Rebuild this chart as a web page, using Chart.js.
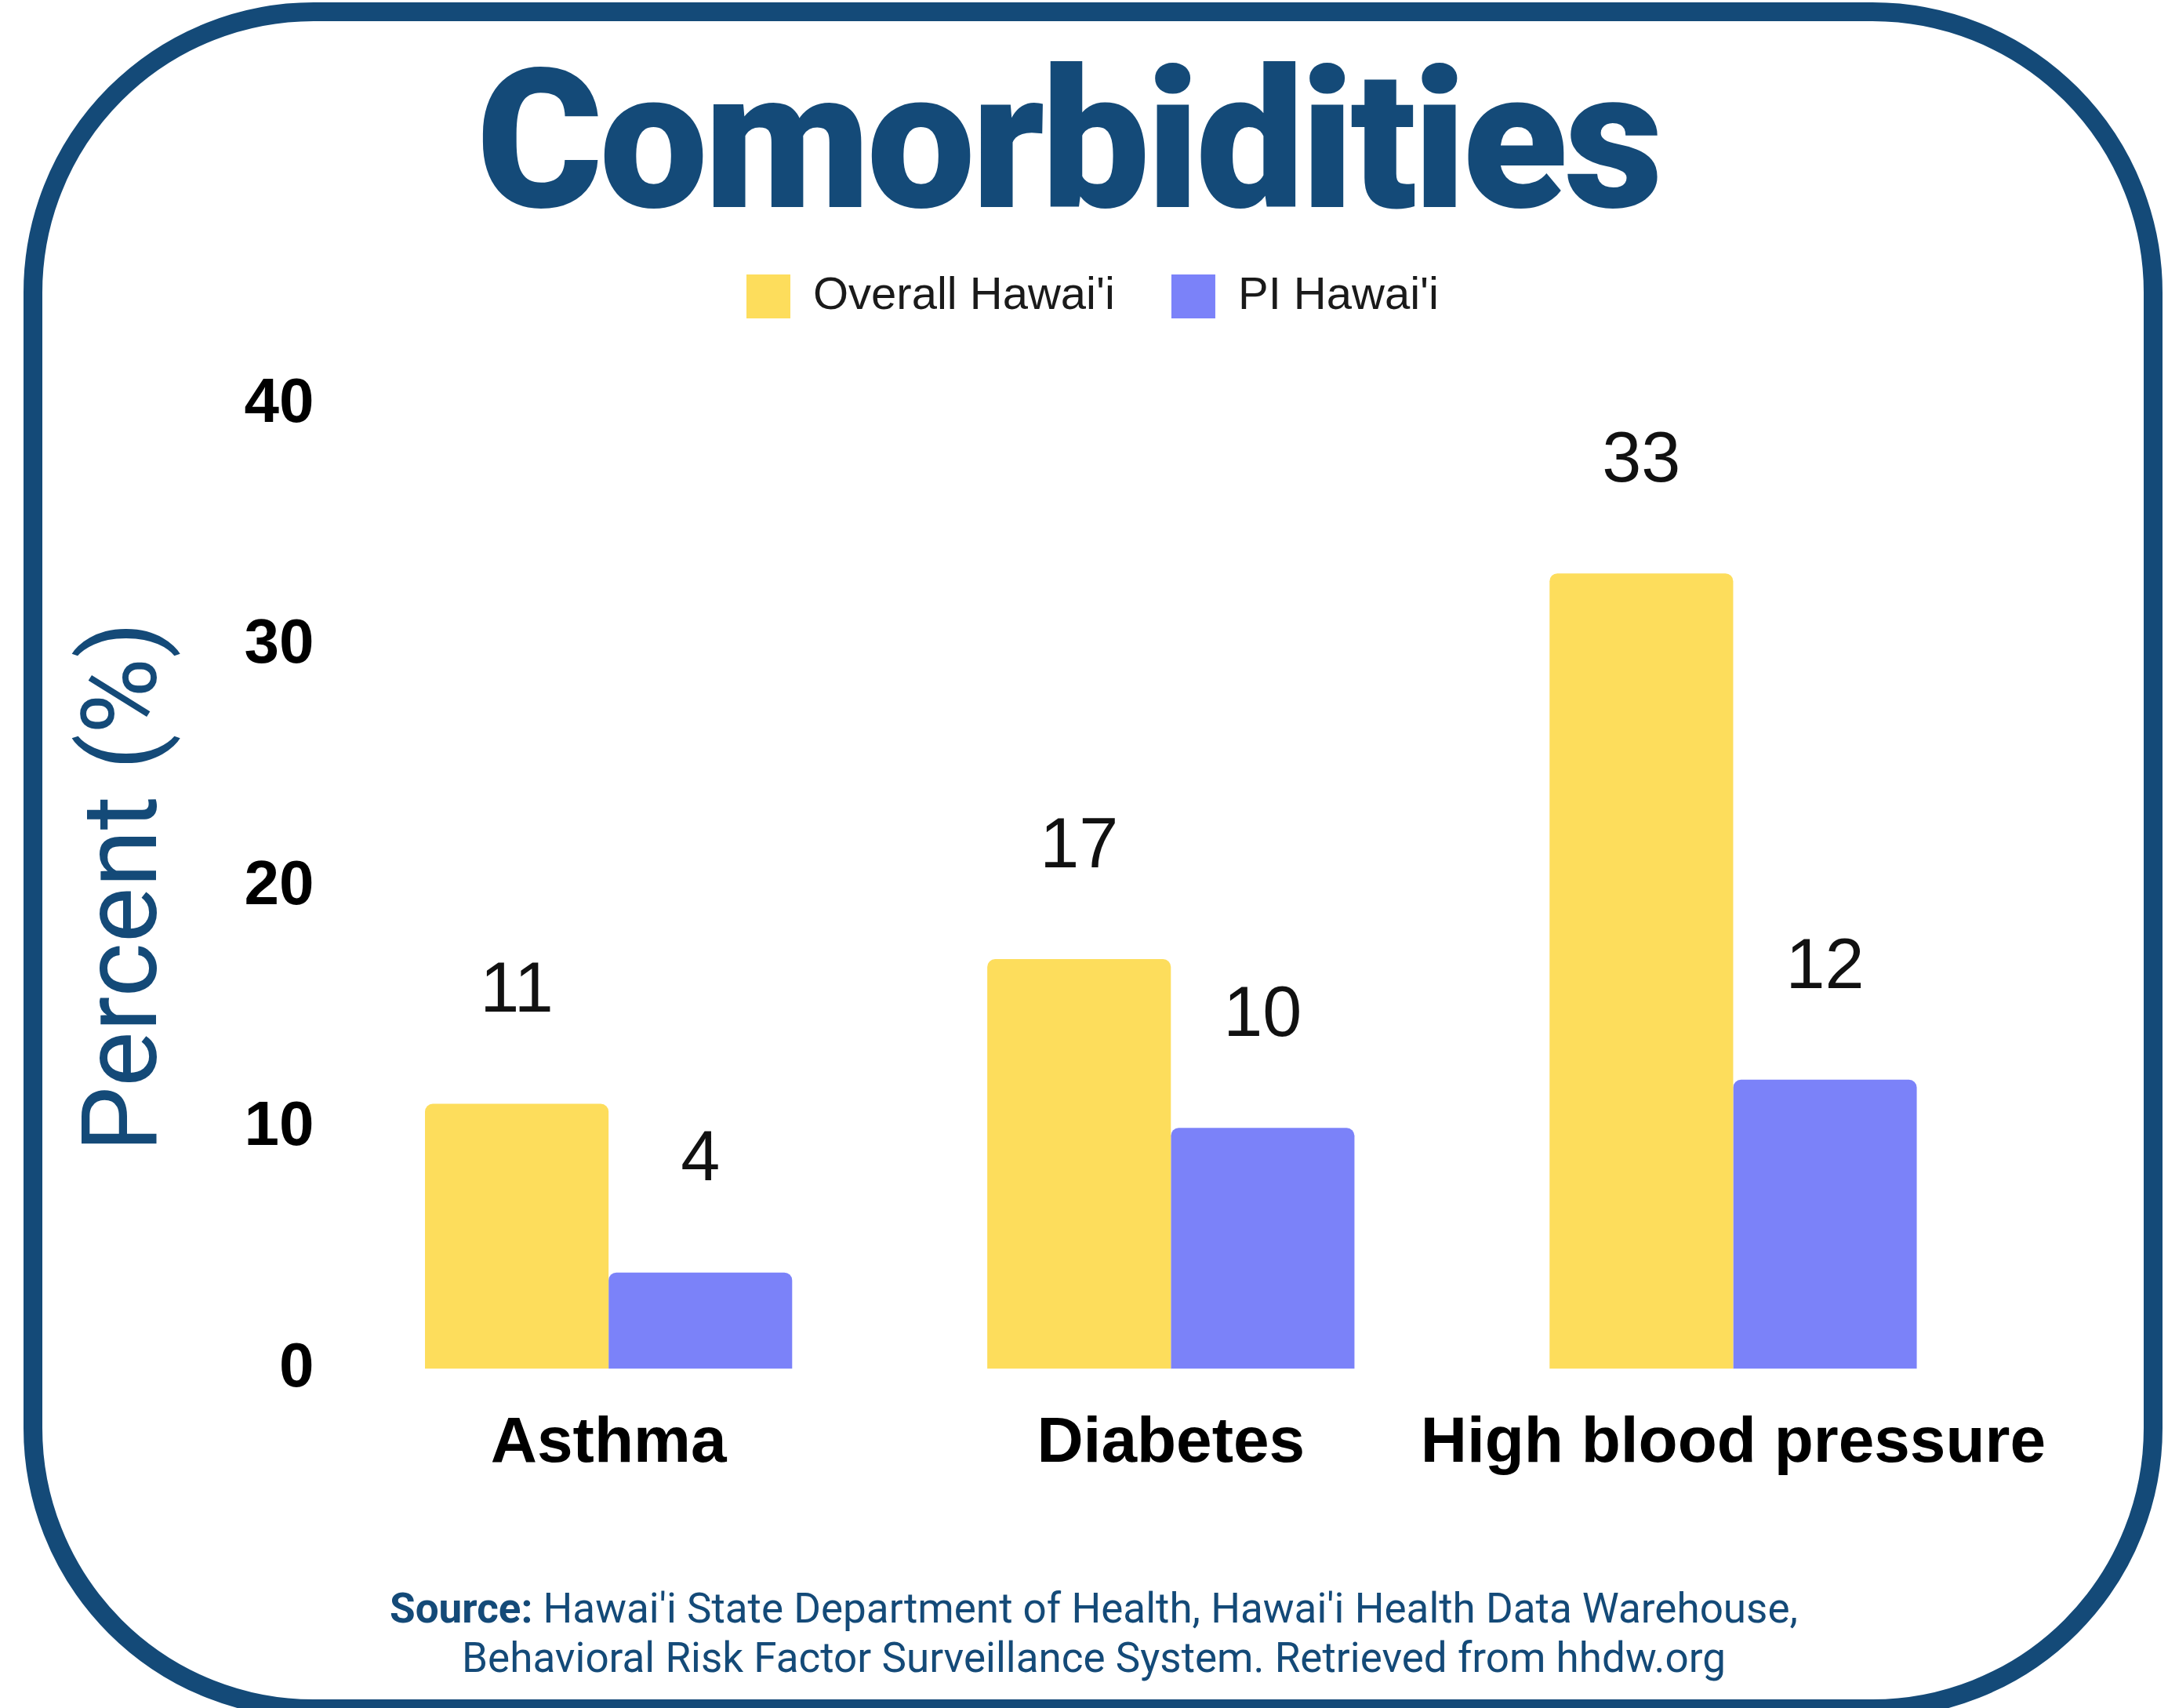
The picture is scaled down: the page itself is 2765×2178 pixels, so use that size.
<!DOCTYPE html>
<html>
<head>
<meta charset="utf-8">
<script src="https://cdn.jsdelivr.net/npm/chart.js@4.4.1/dist/chart.umd.min.js"></script>
<style>
body{
    margin:0;
    width:2765px;
    height:2178px;
    background:#fff;
    position:relative;
    overflow:hidden;
}
#moldura{
    position:absolute;
    left:30px;
    top:3px;
    width:2728px;
    height:2188px;
    box-sizing:border-box;
    border:24px solid #144a78;
    border-radius:370px;
}
#titulo{
    position:absolute;
    left:0;
    top:57px;
    width:2724px;
    text-align:center;
    font:900 246px Roboto;
    letter-spacing:-4.5px;
    line-height:1;
    color:#144a78;
}
#area{
    position:absolute;
    left:0;
    top:277px;
    width:2765px;
    height:1661px;
}
#fonte{
    position:absolute;
    left:0;
    top:2020px;
    width:2790px;
    text-align:center;
    font:53px Roboto;
    line-height:63px;
    color:#144a78;
}
</style>
</head>
<body>

<div id="moldura"></div>
<div id="titulo">Comorbidities</div>
<div id="area"><canvas id="graficoComorbidades"></canvas></div>
<div id="fonte"><b>Source:</b> Hawai'i State Department of Health, Hawai'i Health Data Warehouse,<br>Behavioral Risk Factor Surveillance System. Retrieved from hhdw.org</div>

<script>

const categorias = ["Asthma", "Diabetes", "High blood pressure"];

const overallHawaii = [11, 17, 33];

const piHawaii = [4, 10, 12];

const ticksY = [0, 10, 20, 30, 40];

//Legenda: espaço abaixo e deslocamento para a direita

const ajusteLegenda = {
    id:"ajusteLegenda",
    beforeInit(chart){
        const fitOriginal = chart.legend.fit;
        chart.legend.fit = function(){
            fitOriginal.bind(chart.legend)();
            this.height += 99;
        };
    },
    afterLayout(chart){
        chart.legend.left += 109;
        chart.legend.right += 109;
    }
};

//Valores em cima das barras

const valoresBarras = {
    id:"valoresBarras",
    afterDatasetsDraw(chart){
        const ctx = chart.ctx;
        ctx.save();
        ctx.font = "90px 'Liberation Sans', Arial, sans-serif";
        ctx.fillStyle = "#111";
        ctx.textAlign = "center";
        ctx.textBaseline = "middle";
        chart.data.datasets.forEach((ds, i) => {
            chart.getDatasetMeta(i).data.forEach((bar, j) => {
                ctx.fillText(ds.data[j], bar.x, bar.y - 142);
            });
        });
        ctx.restore();
    }
};

new Chart(

    document.getElementById("graficoComorbidades"),

    {

    type:"bar",

    data:{

        labels:categorias,

        datasets:[
            {
                label:"Overall Hawai'i",
                data:overallHawaii,
                backgroundColor:"#fddd5c",
                borderRadius:10,
                barPercentage:1,
                categoryPercentage:0.653
            },
            {
                label:"PI Hawai'i",
                data:piHawaii,
                backgroundColor:"#7b82f9",
                borderRadius:10,
                barPercentage:1,
                categoryPercentage:0.653
            }
        ]

    },

    options:{

        responsive:true,
        maintainAspectRatio:false,
        animation:false,

        layout:{
            padding:{left:0, right:196, top:0, bottom:0}
        },

        plugins:{
            legend:{
                position:"top",
                labels:{
                    boxWidth:56,
                    boxHeight:56,
                    padding:72,
                    color:"#1a1a1a",
                    font:{family:"'Liberation Sans', Arial, sans-serif", size:58}
                }
            },
            tooltip:{enabled:false}
        },

        scales:{
            x:{
                grid:{display:false, drawTicks:false},
                border:{display:false},
                ticks:{
                    color:"#000",
                    padding:47,
                    autoSkip:false,
                    maxRotation:0,
                    minRotation:0,
                    font:{family:"'Liberation Sans', Arial, sans-serif", size:82, weight:"bold"}
                }
            },
            y:{
                min:0,
                max:40,
                afterBuildTicks(axis){
                    axis.ticks = ticksY.map(v => ({value:v}));
                },
                grid:{display:false, drawTicks:false},
                border:{display:false},
                ticks:{
                    color:"#000",
                    padding:17,
                    font:{family:"'Liberation Sans', Arial, sans-serif", size:80, weight:"bold"}
                },
                title:{
                    display:true,
                    text:"Percent (%)",
                    color:"#144a78",
                    padding:{top:86, bottom:49},
                    font:{family:"Roboto", size:133}
                }
            }
        }

    },

    plugins:[ajusteLegenda, valoresBarras]

    }

);

</script>
</body>
</html>
